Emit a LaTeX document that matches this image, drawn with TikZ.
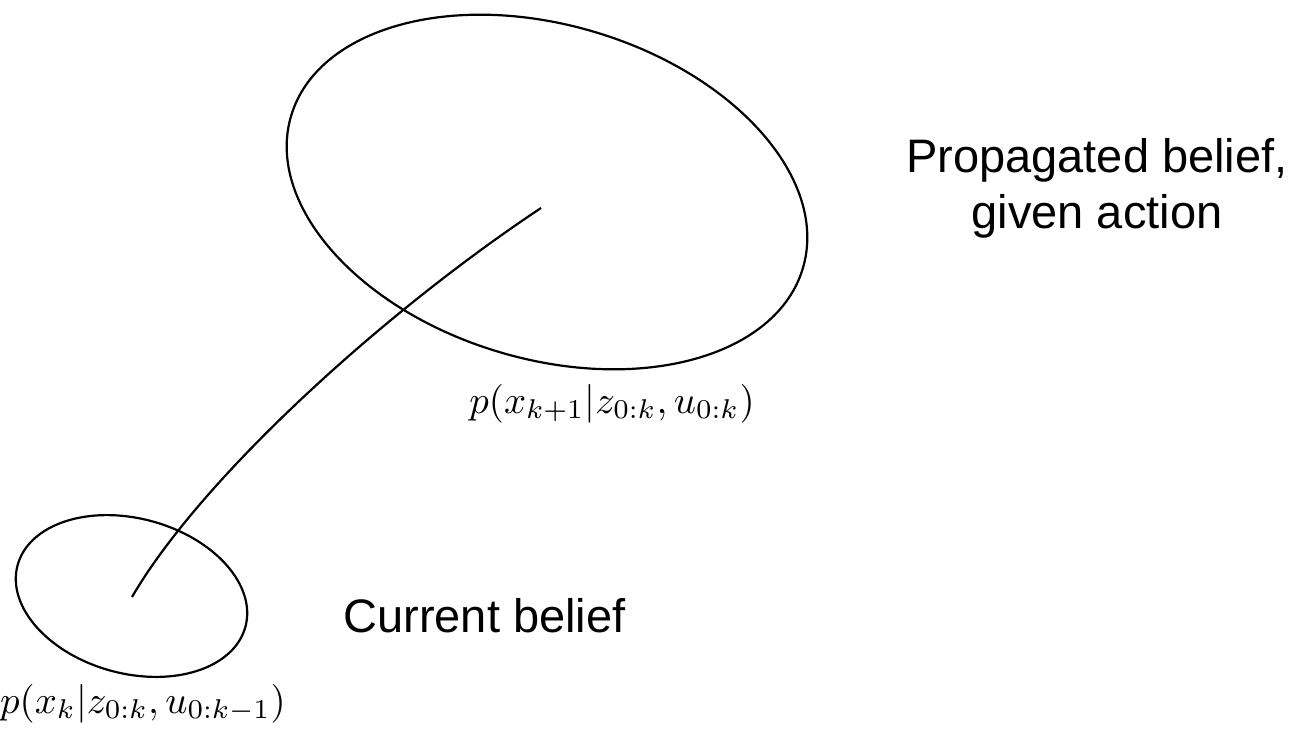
\documentclass[tikz,border=0pt]{standalone}
\usepackage{fontspec}
\newfontfamily\labelfont{Liberation Sans}
\usetikzlibrary{shapes.geometric}
\tikzset{
  belief/.style={ellipse, draw, line width=2.2pt, inner sep=0pt},
  flow/.style={line width=2.2pt},
  caption/.style={font=\labelfont\fontsize{47}{56}\selectfont, align=center, inner sep=0pt},
  dist/.style={inner sep=0pt, anchor=base}
}
\begin{document}
\begin{tikzpicture}[x=1pt, y=-1pt]
\useasboundingbox (0,0) rectangle (1294,732);
\node[belief, minimum width=534pt, minimum height=334pt, rotate=-16.6] (big) at (547,192) {};
\node[belief, minimum width=236pt, minimum height=155pt, rotate=-15.1] (small) at (131.5,596) {};
\coordinate (bigend) at (541,208);
\coordinate (smallend) at (132,597);
\draw[flow] (smallend) .. controls (200,480) and (380,315) .. (bigend);
\node[dist] (lbig) at (612,413) {\scalebox{3.88}{$p(x_{k+1}|z_{0:k},u_{0:k})$}};
\node[dist] (lsmall) at (143,713) {\scalebox{3.88}{$p(x_k|z_{0:k},u_{0:k-1})$}};
\node[caption, anchor=base] (cur) at (484.5,632) {Current belief};
\node[caption, anchor=base] (prop) at (1097,228) {Propagated belief,\\given action};
\end{tikzpicture}
\end{document}
